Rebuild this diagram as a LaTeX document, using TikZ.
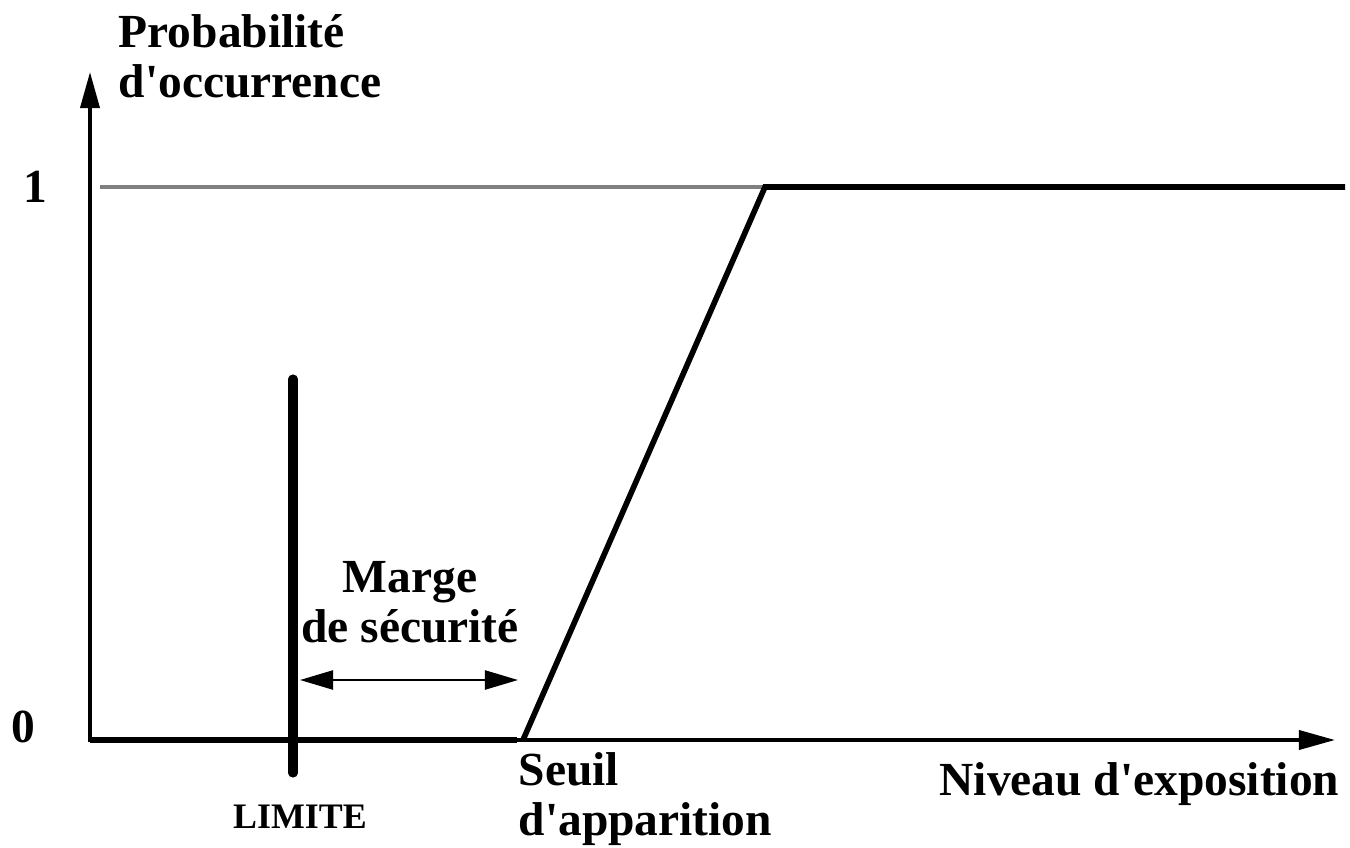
\documentclass[tikz,border=0pt]{standalone}
\usepackage{fontspec}
\setmainfont{Liberation Serif}[Ligatures=TeXOff]
\usetikzlibrary{arrows.meta, positioning}
\tikzset{
  axisline/.style={line width=1.05pt, -{Triangle[length=3.6mm, width=1.9mm]}},
  curveline/.style={line width=1.6pt, line join=miter},
  limitbar/.style={line width=2.6pt, line cap=round},
  refline/.style={line width=1pt, black!50},
  margarrow/.style={line width=0.65pt,
    {Triangle[length=3.3mm, width=1.9mm]}-{Triangle[length=3.3mm, width=1.9mm]}},
  biglabel/.style={font=\bfseries\fontsize{13.5}{14.2}\selectfont, inner sep=0pt, align=left},
  smalllabel/.style={font=\bfseries\fontsize{10.2}{12}\selectfont, inner sep=0pt},
}

\begin{document}
\begin{tikzpicture}[x=0.01cm, y=-0.01cm]
  \useasboundingbox (0,0) rectangle (1350,848);
  % points du graphe
  \coordinate (orig) at (90,742);
  \coordinate (ytip) at (90,72);
  \coordinate (xstart) at (88,740);
  \coordinate (xtip) at (1335,740);
  \coordinate (base0) at (90,740);
  \coordinate (baseend) at (517,740);
  \coordinate (seuil) at (523,740);
  \coordinate (sat) at (765,187);
  \coordinate (satend) at (1345,187);
  \coordinate (ref0) at (100,187);
  \coordinate (limtop) at (293,379);
  \coordinate (limbot) at (293,773);
  \coordinate (margL) at (300,680);
  \coordinate (margR) at (518,680);
  % axes et courbe
  \draw[refline] (ref0) -- (sat);
  \draw[axisline] (orig) -- (ytip);
  \draw[axisline] (xstart) -- (xtip);
  \draw[curveline] (base0) -- (baseend);
  \draw[curveline] (seuil) -- (sat) -- (satend);
  \draw[limitbar] (limtop) -- (limbot);
  \draw[margarrow] (margL) -- (margR);
  % textes
  \node[biglabel, anchor=base west] (proba) at (118,97) {Probabilité\\d'occurrence};
  \node[biglabel, anchor=base] (un) at (35,202) {1};
  \node[biglabel, anchor=base] (zero) at (23,742) {0};
  \node[biglabel, align=center, anchor=base] (marge) at (410,642) {Marge\\de sécurité};
  \node[biglabel, anchor=base west] (seuiltxt) at (518,835) {Seuil\\d'apparition};
  \node[smalllabel, anchor=base] (limite) at (300,828) {LIMITE};
  \node[biglabel, anchor=base east] (niveau) at (1340,795) {Niveau d'exposition};
\end{tikzpicture}
\end{document}
